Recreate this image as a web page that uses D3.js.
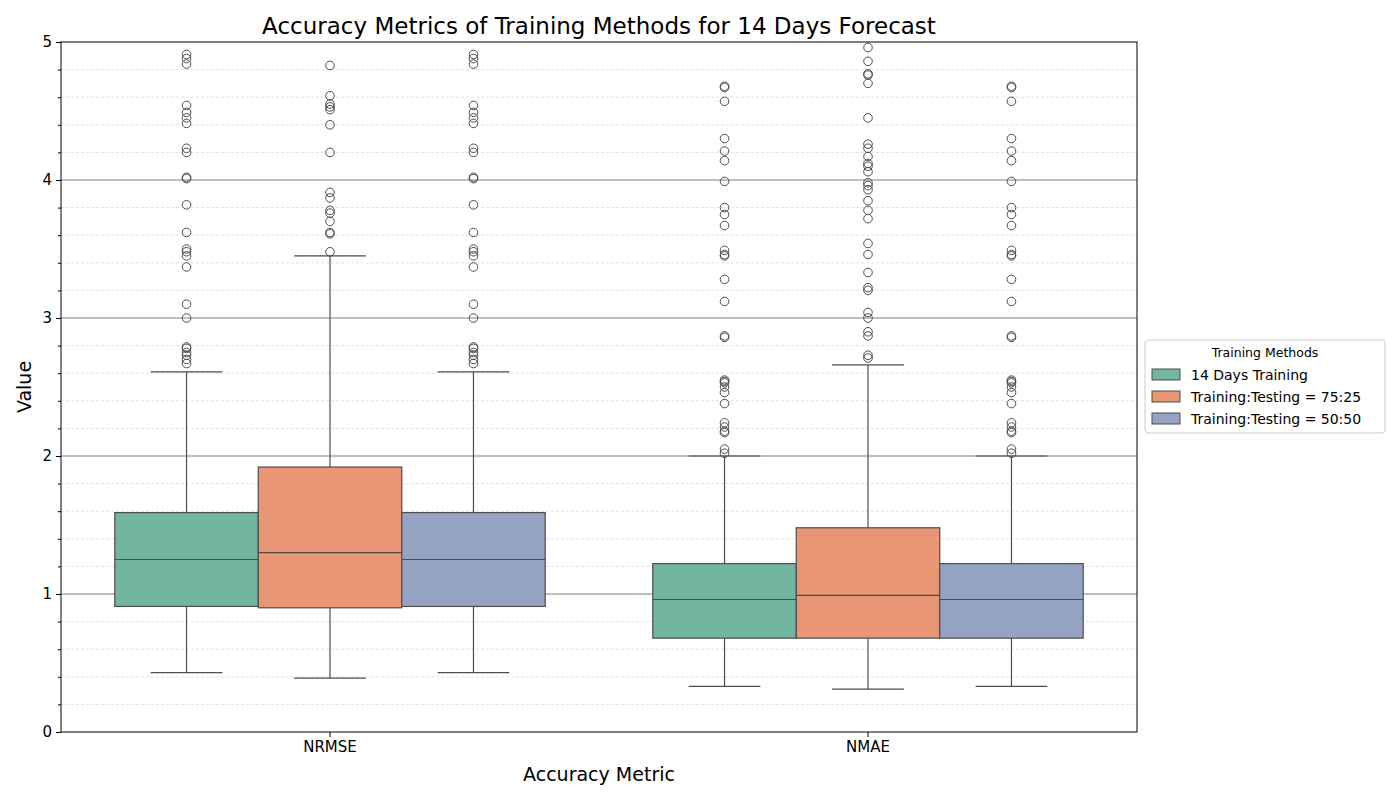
<!DOCTYPE html>
<html><head><meta charset="utf-8">
<script src="https://cdn.jsdelivr.net/npm/d3@7"></script>
<style>body{margin:0;background:#fff}text{font-family:"DejaVu Sans",sans-serif}</style>
</head><body><svg id="chart"></svg>
<script>
var metrics = ["NRMSE", "NMAE"];
var methods = ["14 Days Training", "Training:Testing = 75:25", "Training:Testing = 50:50"];
var colors = ["#72b6a1", "#e99675", "#95a3c3"];
// [whiskerLow, q1, median, q3, whiskerHigh]
var nrmseStats = [[0.43, 0.91, 1.25, 1.59, 2.61], [0.39, 0.90, 1.30, 1.92, 3.45], [0.43, 0.91, 1.25, 1.59, 2.61]];
var nmaeStats = [[0.33, 0.68, 0.96, 1.22, 2.00], [0.31, 0.68, 0.99, 1.48, 2.66], [0.33, 0.68, 0.96, 1.22, 2.00]];
var nrmseOut14 = [2.67,2.70,2.73,2.75,2.78,2.79,3.00,3.10,3.37,3.45,3.48,3.50,3.62,3.82,4.01,4.02,4.20,4.23,4.41,4.45,4.49,4.54,4.84,4.88,4.91];
var nrmseOut75 = [3.48,3.61,3.62,3.70,3.76,3.78,3.87,3.91,4.20,4.40,4.51,4.53,4.55,4.61,4.83];
var nmaeOut14 = [2.02,2.05,2.17,2.18,2.21,2.24,2.38,2.46,2.50,2.53,2.55,2.54,2.86,2.87,3.12,3.28,3.45,3.46,3.49,3.67,3.75,3.80,3.99,4.14,4.21,4.30,4.57,4.67,4.68];
var nmaeOut75 = [2.71,2.73,2.87,2.90,3.00,3.04,3.20,3.22,3.33,3.46,3.54,3.72,3.78,3.85,3.93,3.96,3.98,4.06,4.10,4.12,4.17,4.23,4.26,4.45,4.70,4.76,4.77,4.86,4.96];
var stats = {NRMSE: nrmseStats, NMAE: nmaeStats};
var outliers = {NRMSE: [nrmseOut14, nrmseOut75, nrmseOut14], NMAE: [nmaeOut14, nmaeOut75, nmaeOut14]};

var m = {top: 42, left: 61, right: 263, bottom: 68};
var W = 1400, H = 800, w = W - m.left - m.right, h = H - m.top - m.bottom;
var svg = d3.select("#chart").attr("width", W).attr("height", H);
var g = svg.append("g").attr("transform", "translate(" + m.left + "," + m.top + ")");
var x = d3.scaleBand().domain(metrics).range([0, w]);
var xs = d3.scaleBand().domain(methods).range([0, x.bandwidth() * 0.8]);
var y = d3.scaleLinear().domain([0, 5]).range([h, 0]);

// grid
g.selectAll(".minor").data(d3.range(0.2, 5, 0.2).filter(function(v){return Math.abs(v - Math.round(v)) > 0.01;}))
  .enter().append("line").attr("x1", 0).attr("x2", w).attr("y1", y).attr("y2", y)
  .attr("stroke", "#ccc").attr("stroke-width", 0.6).attr("stroke-dasharray", "3,2");
g.selectAll(".major").data([1, 2, 3, 4]).enter().append("line")
  .attr("x1", 0).attr("x2", w).attr("y1", y).attr("y2", y).attr("stroke", "#808080").attr("stroke-width", 1.2);

metrics.forEach(function(mt){
  methods.forEach(function(md, i){
    var s = stats[mt][i];
    var x0 = x(mt) + x.bandwidth() * 0.1 + xs(md), bw = xs.bandwidth(), cx = x0 + bw / 2;
    var b = g.append("g");
    b.append("line").attr("x1", cx).attr("x2", cx).attr("y1", y(s[0])).attr("y2", y(s[1])).attr("stroke", "#4d4d4d").attr("stroke-width", 1.2);
    b.append("line").attr("x1", cx).attr("x2", cx).attr("y1", y(s[3])).attr("y2", y(s[4])).attr("stroke", "#4d4d4d").attr("stroke-width", 1.2);
    [s[0], s[4]].forEach(function(v){
      b.append("line").attr("x1", cx - bw / 4).attr("x2", cx + bw / 4).attr("y1", y(v)).attr("y2", y(v)).attr("stroke", "#4d4d4d").attr("stroke-width", 1.2);
    });
    b.append("rect").attr("x", x0).attr("width", bw).attr("y", y(s[3])).attr("height", y(s[1]) - y(s[3]))
      .attr("fill", colors[i]).attr("stroke", "#4d4d4d").attr("stroke-width", 1.2);
    b.append("line").attr("x1", x0).attr("x2", x0 + bw).attr("y1", y(s[2])).attr("y2", y(s[2])).attr("stroke", "#4d4d4d").attr("stroke-width", 1.2);
    b.selectAll("circle").data(outliers[mt][i]).enter().append("circle")
      .attr("cx", cx).attr("cy", y).attr("r", 4.3).attr("fill", "none").attr("stroke", "#4d4d4d").attr("stroke-width", 1);
  });
});

g.append("rect").attr("width", w).attr("height", h).attr("fill", "none").attr("stroke", "#000").attr("stroke-width", 1);
var ya = g.append("g").call(d3.axisLeft(y).tickValues([0,1,2,3,4,5]).tickFormat(d3.format("d")).tickSize(5).tickPadding(4));
g.append("g").call(d3.axisLeft(y).tickValues(d3.range(0.2, 5, 0.2).filter(function(v){return Math.abs(v - Math.round(v)) > 0.01;})).tickFormat("").tickSize(3));
var xa = g.append("g").attr("transform", "translate(0," + h + ")").call(d3.axisBottom(x).tickSize(5).tickPadding(4));
g.selectAll(".domain").remove();
g.selectAll(".tick text").attr("font-size", 15).attr("fill", "#000");

svg.append("text").attr("x", m.left + w / 2).attr("y", 34).attr("text-anchor", "middle").attr("font-size", 23).text("Accuracy Metrics of Training Methods for 14 Days Forecast");
svg.append("text").attr("x", m.left + w / 2).attr("y", 781).attr("text-anchor", "middle").attr("font-size", 19).text("Accuracy Metric");
svg.append("text").attr("transform", "translate(31," + (m.top + h / 2) + ") rotate(-90)").attr("text-anchor", "middle").attr("font-size", 19).text("Value");

var lg = svg.append("g").attr("transform", "translate(1145,340)");
lg.append("rect").attr("width", 240).attr("height", 93).attr("rx", 3).attr("fill", "#fff").attr("stroke", "#ccc");
lg.append("text").attr("x", 120).attr("y", 17).attr("text-anchor", "middle").attr("font-size", 12.5).text("Training Methods");
methods.forEach(function(md, i){
  lg.append("rect").attr("x", 7).attr("y", 29 + i * 22).attr("width", 28).attr("height", 11).attr("fill", colors[i]).attr("stroke", "#4d4d4d");
  lg.append("text").attr("x", 46).attr("y", 40 + i * 22).attr("font-size", 14).text(md);
});
</script></body></html>
